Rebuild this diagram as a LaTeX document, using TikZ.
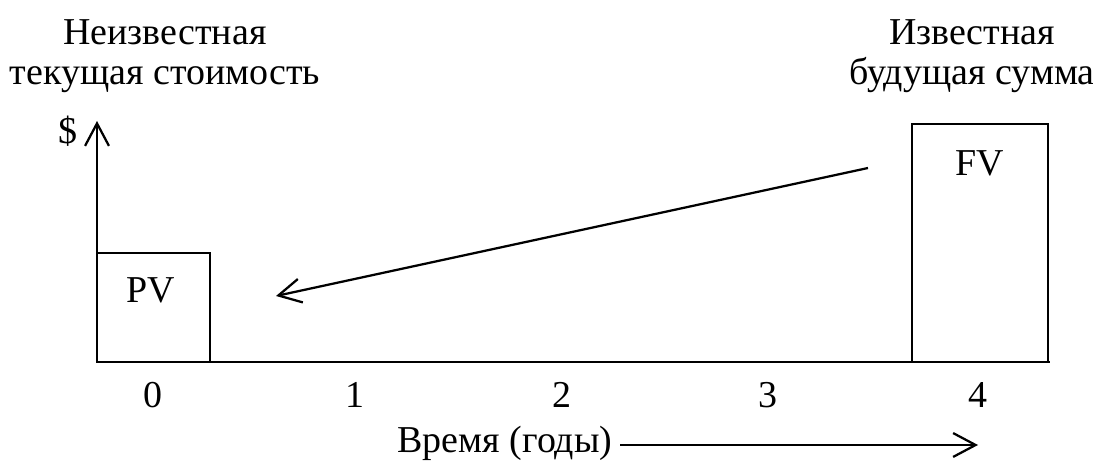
\documentclass[tikz,border=0pt]{standalone}
\usepackage{fontspec}
\setmainfont{Liberation Serif}
\usetikzlibrary{arrows.meta}
\begin{document}
\begin{tikzpicture}[x=0.025cm, y=-0.025cm, line width=1.6pt,
    every node/.style={font=\fontsize{27}{28}\selectfont, inner sep=0pt},
    tip/.style={-{Straight Barb[length=16pt, width=17pt, line width=1.6pt]}}]
  \useasboundingbox (0,0) rectangle (1093,472);
  % axes
  \coordinate (origin) at (97,362);
  \coordinate (ytop) at (97,121);
  \coordinate (xend) at (1050,362);
  \draw[tip] (origin) -- (ytop);
  \draw (origin) -- (xend);
  \node (dollar) at (68,131) {\$};
  % boxes
  \draw (97,253) rectangle (210,362);
  \node (pv) at (151,290) {PV};
  \draw (912,124) rectangle (1048,362);
  \node (fv) at (980,163) {FV};
  % discounting arrow
  \coordinate (fvstart) at (868,168);
  \coordinate (pvend) at (276,296);
  \draw[tip] (fvstart) -- (pvend);
  % years
  \foreach \t/\x in {0/153,1/355,2/562,3/768,4/978}
    \node[anchor=base] (t\t) at (\x,407) {\t};
  \node[anchor=base] (time) at (505,452) {Время (годы)};
  \coordinate (tstart) at (620,445);
  \coordinate (tend) at (978,445);
  \draw[tip] (tstart) -- (tend);
  % captions
  \node[align=center] (pvtext) at (165,56) {Неизвестная\\текущая стоимость};
  \node[align=center] (fvtext) at (972,56) {Известная\\будущая сумма};
\end{tikzpicture}
\end{document}
